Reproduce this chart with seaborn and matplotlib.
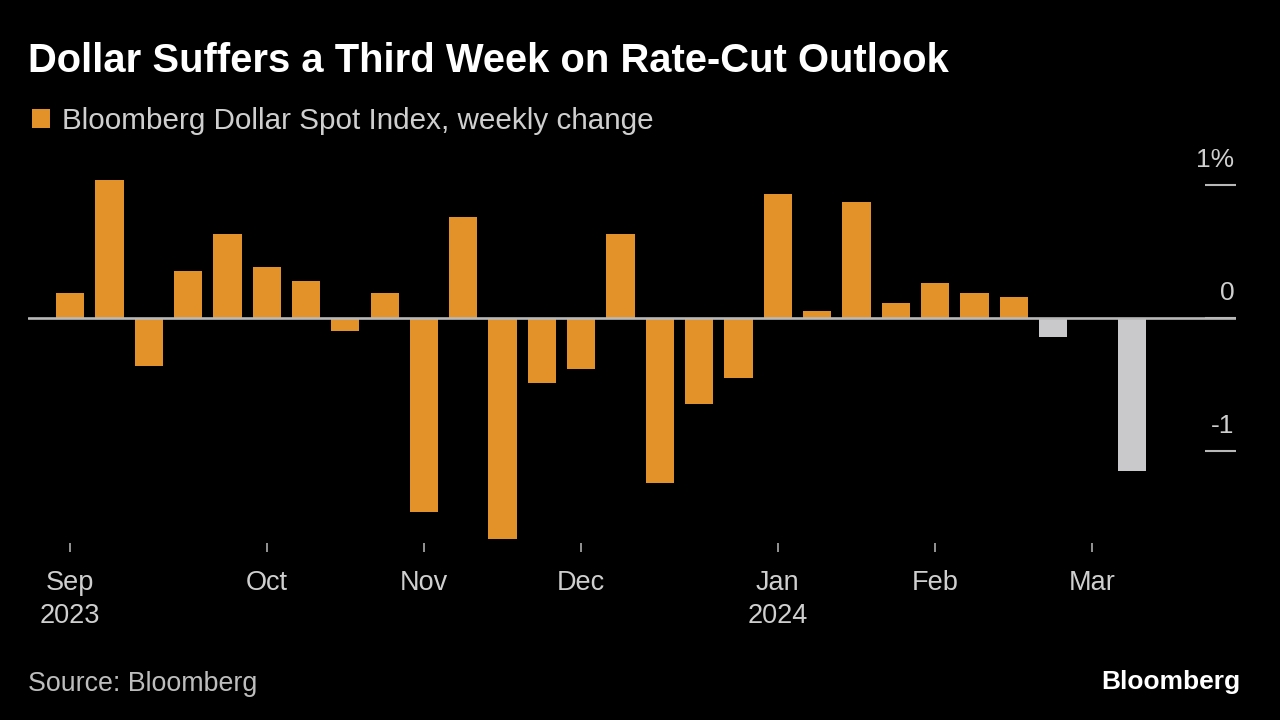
import numpy as np
import pandas as pd
import matplotlib
matplotlib.use("Agg")
import matplotlib.pyplot as plt
import matplotlib.transforms as mtransforms
from matplotlib.patches import Patch
import seaborn as sns

# ---- data ----
weeks = [
    "2023-09-01", "2023-09-08", "2023-09-15", "2023-09-22", "2023-09-29",
    "2023-10-06", "2023-10-13", "2023-10-20", "2023-10-27",
    "2023-11-03", "2023-11-10", "2023-11-17", "2023-11-24",
    "2023-12-01", "2023-12-08", "2023-12-15", "2023-12-22", "2023-12-29",
    "2024-01-05", "2024-01-12", "2024-01-19", "2024-01-26",
    "2024-02-02", "2024-02-09", "2024-02-16", "2024-02-23",
    "2024-03-01", "2024-03-08",
]
weekly_change = [
    0.19, 1.04, -0.36, 0.35, 0.63,
    0.38, 0.28, -0.10, 0.19,
    -1.46, 0.76, -1.66, -0.49,
    -0.38, 0.63, -1.24, -0.65, -0.45,
    0.93, 0.05, 0.87, 0.11,
    0.26, 0.19, 0.16, -0.14,
    -0.01, -1.15,
]
highlight_last = 3
month_labels = ["Sep\n2023", "Oct", "Nov", "Dec", "Jan\n2024", "Feb", "Mar"]
y_ticks = [-1, 0, 1]
y_tick_labels = ["-1", "0", "1%"]

title = "Dollar Suffers a Third Week on Rate-Cut Outlook"
legend_label = "Bloomberg Dollar Spot Index, weekly change"
source = "Source: Bloomberg"

ORANGE = "#E3922A"
GRAY = "#C9C9CB"
BG = "#000000"
TXT = "#CFCFCF"

df = pd.DataFrame({"week": weeks, "change": weekly_change})
df["group"] = ["weekly"] * (len(df) - highlight_last) + ["recent"] * highlight_last
dates = pd.to_datetime(df["week"])
month_idx = [int(np.where((dates.dt.year == y) & (dates.dt.month == m))[0][0])
             for y, m in [(2023, 9), (2023, 10), (2023, 11), (2023, 12), (2024, 1), (2024, 2), (2024, 3)]]

sns.set_theme(style="dark", rc={
    "figure.facecolor": BG, "axes.facecolor": BG, "savefig.facecolor": BG,
    "axes.edgecolor": BG, "text.color": TXT,
})
plt.rcParams["font.family"] = ["Liberation Sans", "DejaVu Sans"]

fig = plt.figure(figsize=(12.8, 7.2), dpi=100)
ax = fig.add_axes([28 / 1280, (720 - 543) / 720, (1236 - 28) / 1280, (543 - 158.4) / 720])

sns.barplot(data=df, x="week", y="change", hue="group", hue_order=["weekly", "recent"],
            palette={"weekly": ORANGE, "recent": GRAY}, dodge=False, width=0.72,
            saturation=1, legend=False, linewidth=0, ax=ax)

ax.axhline(0, color="#B8B8B8", lw=1.9, zorder=3)

ax.set_xlim(-1.07, 29.65)
ax.set_ylim(-1.692, 1.2)
for s in ax.spines.values():
    s.set_visible(False)
ax.grid(False)
ax.set_xlabel("")
ax.set_ylabel("")

ax.set_xticks(month_idx)
ax.set_xticklabels(month_labels, linespacing=1.35)
ax.tick_params(axis="x", direction="out", length=6.5, width=1.3, color="#A0A0A0",
               pad=13, labelsize=19.5, labelcolor=TXT, bottom=True)

ax.yaxis.set_ticks_position("right")
ax.set_yticks(y_ticks)
ax.tick_params(axis="y", direction="in", length=22.5, width=1.5, color="#B8B8B8",
               labelright=False, labelleft=False, right=True, left=False)
lab_tr = mtransforms.offset_copy(ax.get_yaxis_transform(), fig=fig, x=-1, y=9.5, units="points")
for v, lab in zip(y_ticks, y_tick_labels):
    ax.text(1.0, v, lab, transform=lab_tr, ha="right", va="bottom",
            fontsize=19, color=TXT)

fig.text(28 / 1280, 1 - 72 / 720, title, fontsize=28.8, fontweight="bold",
         color="white", va="baseline", ha="left")
fig.legend(handles=[Patch(facecolor=ORANGE, edgecolor="none", label=legend_label)],
           loc="center left", bbox_to_anchor=(32 / 1280, 1 - 121 / 720),
           frameon=False, fontsize=21.3, handlelength=0.6, handleheight=0.62,
           handletextpad=0.42, borderpad=0, borderaxespad=0, labelcolor=TXT)
fig.text(28 / 1280, 1 - 684 / 720, source, fontsize=19.3, color="#BDBDBD",
         va="center", ha="left")
fig.text(1240 / 1280, 1 - 682 / 720, "Bloomberg", fontsize=19, fontweight="bold",
         color="white", va="center", ha="right")

fig.savefig("out.png", dpi=100, facecolor=BG)
